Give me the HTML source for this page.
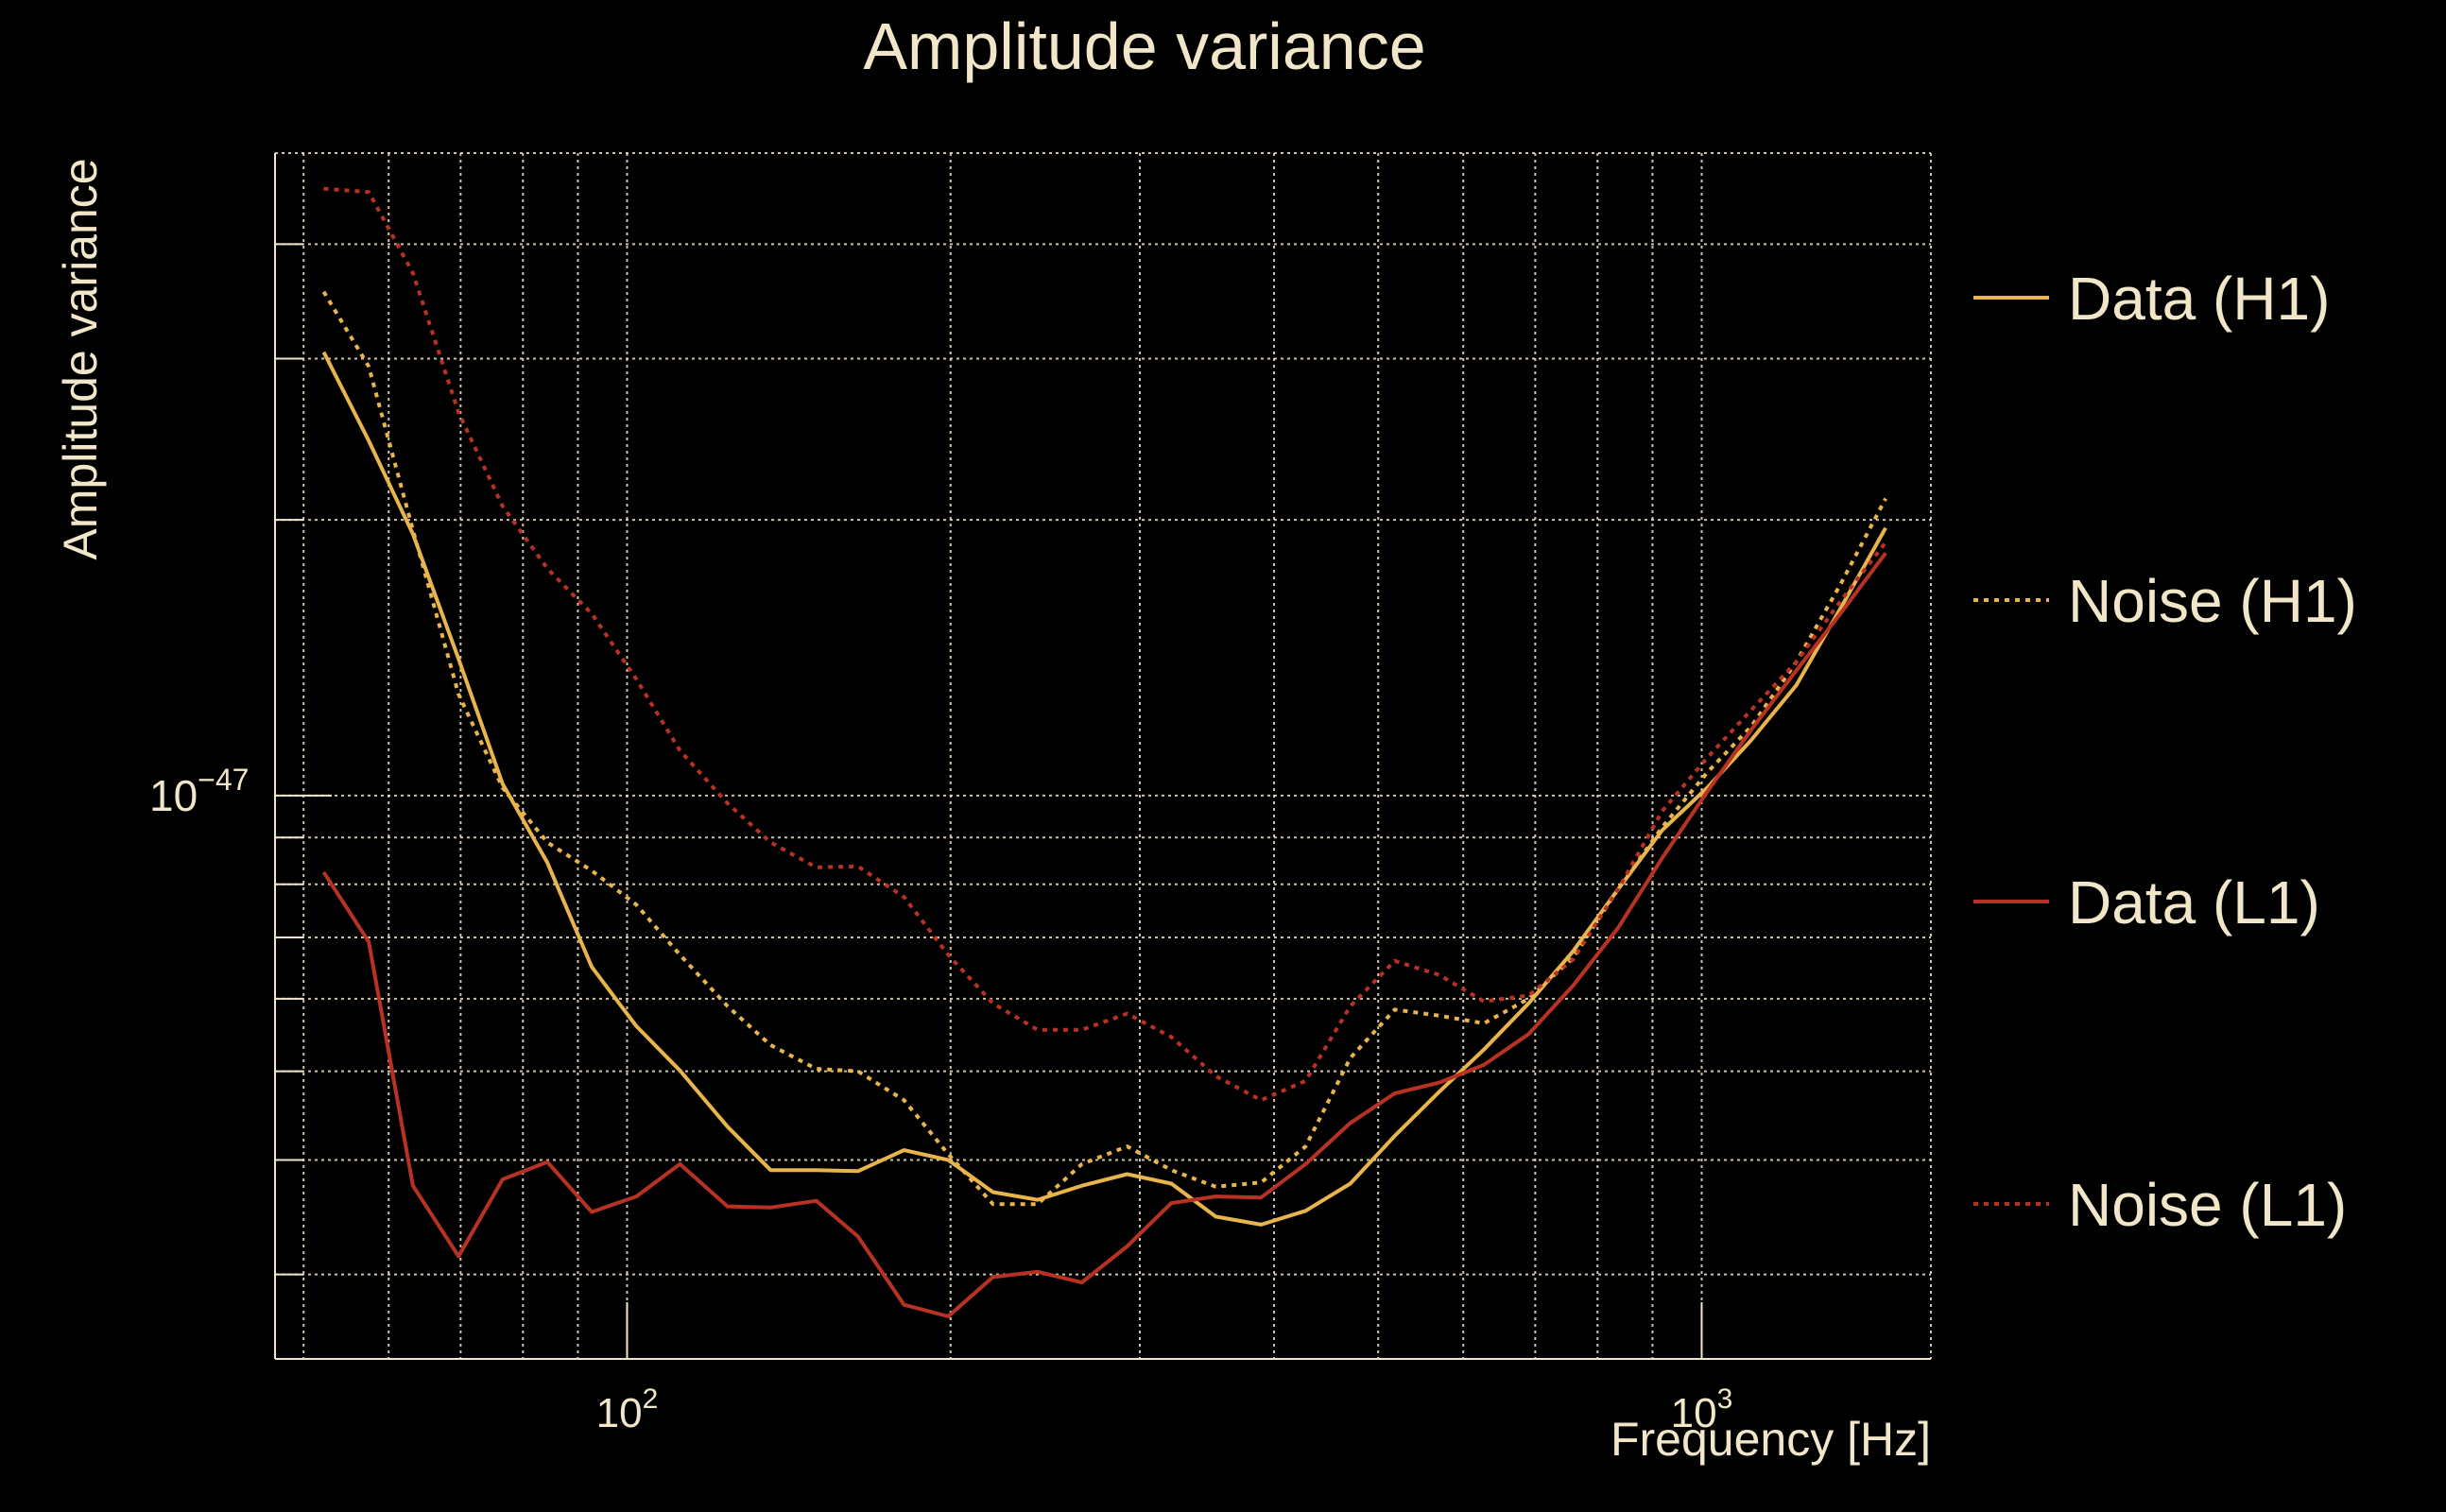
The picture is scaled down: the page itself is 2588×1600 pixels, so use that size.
<!DOCTYPE html>
<html><head><meta charset="utf-8"><style>
html,body{margin:0;padding:0;background:#000;}
svg{display:block;font-family:"Liberation Sans",sans-serif;}
</style></head><body>
<svg id="chart" width="2588" height="1600" viewBox="0 0 2588 1600" xmlns="http://www.w3.org/2000/svg">
<rect width="2588" height="1600" fill="#000"/>
<text x="1211" y="73" text-anchor="middle" font-size="70" fill="#f2e6c8">Amplitude variance</text>
<text transform="translate(102,380) rotate(-90)" text-anchor="middle" font-size="50" fill="#f2e6c8">Amplitude variance</text>
<text x="2043" y="1540" text-anchor="end" font-size="50" fill="#f2e6c8">Frequency [Hz]</text>
<g id="grid"></g>
<g id="axes"></g>
<g id="series"></g>
<g id="legend"></g>
</svg>
<script>
const freqs=[52.2,57.5,63.2,69.7,76.6,84.3,92.7,102,112,124,136,150,164,181,199,219,241,265,292,321,353,389,428,471,518,570,627,690,759,836,919,1012,1112,1225,1346,1483];
// values in units of 1e-48
const dataH1=[30.5,24.4,19.3,14.1,10.3,8.45,6.50,5.60,5.01,4.35,3.90,3.90,3.89,4.10,4.00,3.69,3.62,3.75,3.86,3.77,3.47,3.40,3.52,3.77,4.25,4.75,5.28,5.93,6.76,7.90,9.17,10.2,11.5,13.2,16.0,19.6];
const noiseH1=[35.5,29.4,19.5,12.9,10.2,8.89,8.28,7.60,6.70,5.89,5.34,5.03,5.00,4.65,4.06,3.58,3.58,3.96,4.14,3.90,3.74,3.78,4.14,5.17,5.84,5.75,5.64,6.00,6.65,7.90,9.24,10.6,11.9,14.0,17.0,21.1];
const dataL1=[8.25,6.92,3.75,3.14,3.81,3.98,3.51,3.65,3.96,3.56,3.55,3.61,3.30,2.78,2.70,2.98,3.02,2.94,3.22,3.59,3.65,3.64,3.96,4.39,4.73,4.86,5.08,5.49,6.20,7.17,8.55,10.1,11.8,13.7,15.8,18.4];
const noiseL1=[46.0,45.6,37.2,26.2,20.7,17.7,15.8,13.4,11.2,9.81,8.89,8.35,8.37,7.75,6.70,5.93,5.55,5.55,5.78,5.45,4.94,4.65,4.88,5.89,6.60,6.37,5.96,6.05,6.62,7.90,9.62,11.0,12.4,14.0,16.3,18.9];
const xGrid=[50,60,70,80,90,100,200,300,400,500,600,700,800,900,1000];
const yGrid=[3,4,5,6,7,8,9,10,20,30,40];
const xTickLabels=[{v:100,e:"2"},{v:1000,e:"3"}];
const yTickLabels=[{v:10,e:"\u221247"}];

const L=291,R=2043,T=162,B=1438;
const xLo=1.6724,xHi=3.2133,yLo=Math.log10(2.426),yHi=Math.log10(50.3);
const X=f=>L+(Math.log10(f)-xLo)/(xHi-xLo)*(R-L);
const Y=v=>B-(Math.log10(v)-yLo)/(yHi-yLo)*(B-T);
const NS="http://www.w3.org/2000/svg";
function mk(tag,attrs,parent){const e=document.createElementNS(NS,tag);for(const k in attrs)e.setAttribute(k,attrs[k]);parent.appendChild(e);return e;}
const C="#f2e6c8";
const grid=document.getElementById('grid'),axes=document.getElementById('axes'),ser=document.getElementById('series'),leg=document.getElementById('legend');
xGrid.forEach(f=>{const x=X(f);
 const l=mk('line',{x1:x,x2:x,y1:T,y2:B,stroke:C,'stroke-width':2,'stroke-dasharray':'3 4',opacity:0.85},grid);
 
 
 if(f===100||f===1000){
 const t=mk('line',{x1:x,x2:x,y1:B,y2:B-60,stroke:C,'stroke-width':2},axes);
 
 }
});
yGrid.forEach(v=>{const y=Y(v);
 const l=mk('line',{x1:L,x2:R,y1:y,y2:y,stroke:C,'stroke-width':2,'stroke-dasharray':'3 4',opacity:0.85},grid);
 
 
 const t=mk('line',{x1:L,x2:L+(v===10?60:30),y1:y,y2:y,stroke:C,'stroke-width':2},axes);
 
 
});
[[L,T,R,T],[R,T,R,B]].forEach(a=>{const l=mk('line',{x1:a[0],y1:a[1],x2:a[2],y2:a[3],stroke:C,'stroke-width':2,'stroke-dasharray':'3 4',opacity:0.85},axes);
 
 });
const ya=mk('line',{x1:L,y1:T,x2:L,y2:B,stroke:C,'stroke-width':2},axes);


const xa=mk('line',{x1:L,y1:B,x2:R,y2:B,stroke:C,'stroke-width':2},axes);


xTickLabels.forEach(o=>{const t=mk('text',{x:X(o.v),y:1510,'text-anchor':'middle','font-size':44,fill:C},axes);
 
 
 t.innerHTML='10<tspan dy="-20" font-size="30">'+o.e+'</tspan>';});
yTickLabels.forEach(o=>{const t=mk('text',{x:158,y:Y(o.v)+16,'text-anchor':'start','font-size':46,fill:C},axes);
 
 
 t.innerHTML='10<tspan dy="-22" font-size="32">'+o.e+'</tspan>';});
const series=[
 {name:'Data (H1)',vals:dataH1,color:'#e8b44c',dash:null,id:'data-h1'},
 {name:'Noise (H1)',vals:noiseH1,color:'#e8b44c',dash:'5 6',id:'noise-h1'},
 {name:'Data (L1)',vals:dataL1,color:'#b83224',dash:null,id:'data-l1'},
 {name:'Noise (L1)',vals:noiseL1,color:'#b83224',dash:'5 6',id:'noise-l1'}];
const legY=[315,635,954,1274];
series.forEach((s,i)=>{
 const d=s.vals.map((v,k)=>(k?'L':'M')+X(freqs[k]).toFixed(1)+','+Y(v).toFixed(1)).join(' ');
 const p=mk('path',{d:d,fill:'none',stroke:s.color,'stroke-width':4,'stroke-linejoin':'round'},ser);
 if(s.dash)p.setAttribute('stroke-dasharray',s.dash);
 
 
 const g=mk('g',{},leg);
 
 
 const ll=mk('line',{x1:2088,x2:2168,y1:legY[i],y2:legY[i],stroke:s.color,'stroke-width':4},g);
 if(s.dash)ll.setAttribute('stroke-dasharray',s.dash);
 
 
 const t=mk('text',{x:2188,y:legY[i]+23,'font-size':64,fill:C},g);
 
 
 t.textContent=s.name;
});
</script>
</body></html>
